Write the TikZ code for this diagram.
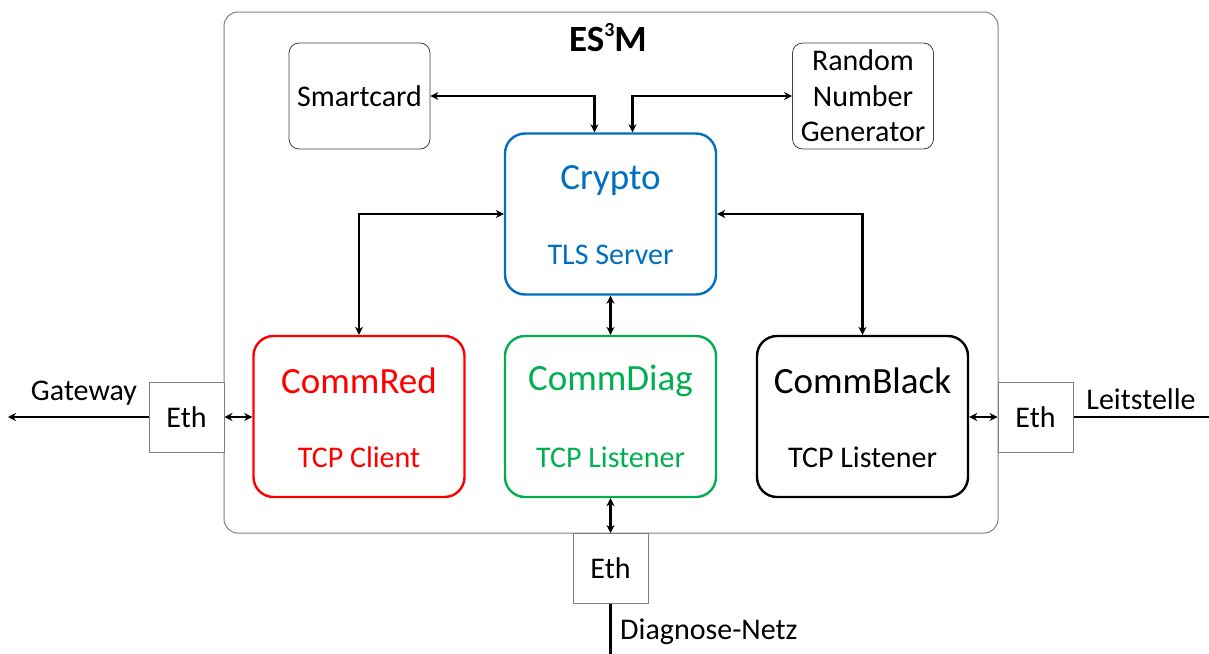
\documentclass[tikz,border=0pt]{standalone}
\usepackage{fontspec}
\setmainfont{Carlito}
\usetikzlibrary{arrows.meta,calc}
\definecolor{cblue}{HTML}{0070C0}
\definecolor{cred}{HTML}{FF0000}
\definecolor{cgreen}{HTML}{00B050}
\definecolor{cgray}{HTML}{7F7F7F}
\begin{document}
\begin{tikzpicture}[x=1pt,y=-1pt,
  outerbox/.style={draw=cgray,line width=1pt,rounded corners=14pt,inner sep=0pt},
  smallbox/.style={draw=black!75,line width=0.8pt,rounded corners=10pt,inner sep=0pt,minimum width=141pt,minimum height=106pt},
  compbox/.style={line width=2.4pt,rounded corners=20pt,inner sep=0pt,minimum width=211pt,minimum height=161pt},
  ethbox/.style={draw=cgray,line width=1pt,fill=white,inner sep=0pt,minimum width=75pt,minimum height=70pt,font=\fontsize{30}{34}\selectfont},
  bigtxt/.style={font=\fontsize{37}{42}\selectfont,inner sep=0pt},
  smalltxt/.style={font=\fontsize{30}{34}\selectfont,inner sep=0pt},
  conn/.style={line width=2.4pt,{Stealth[length=8pt,width=8pt]}-{Stealth[length=8pt,width=8pt]}},
  oneway/.style={line width=2.4pt,-{Stealth[length=8pt,width=8pt]}}
]
\useasboundingbox (0,0) rectangle (1209,653);
\node[outerbox,minimum width=774pt,minimum height=521pt] (esm) at (611,272.5) {};
\node[font=\fontsize{37}{42}\selectfont\bfseries,inner sep=0pt] (title) at (608,38) {ES\raisebox{15pt}{\fontsize{20}{24}\selectfont 3}M};
\node[smallbox] (sc) at (359.5,96) {};
\node[smalltxt] (sctxt) at (359.5,96) {Smartcard};
\node[smallbox] (rng) at (863,96) {};
\node[smalltxt,align=center,font=\fontsize{30}{35.5}\selectfont] (rngtxt) at (863,96) {Random\\Number\\Generator};
\node[compbox,draw=cblue] (cr) at (610.5,214) {};
\node[bigtxt,text=cblue] (crt) at (610.5,180) {Crypto};
\node[smalltxt,text=cblue] (crs) at (610.5,255) {TLS Server};
\node[compbox,draw=cred] (red) at (359,416.5) {};
\node[bigtxt,text=cred] (redt) at (359,381) {CommRed};
\node[smalltxt,text=cred] (reds) at (359,457) {TCP Client};
\node[compbox,draw=cgreen] (diag) at (610.5,416.5) {};
\node[bigtxt,text=cgreen] (diagt) at (610.5,381) {CommDiag};
\node[smalltxt,text=cgreen] (diags) at (610.5,457) {TCP Listener};
\node[compbox,draw=black] (blk) at (862.5,416.5) {};
\node[bigtxt] (blkt) at (862.5,381) {CommBlack};
\node[smalltxt] (blks) at (862.5,457) {TCP Listener};
\node[ethbox] (ethl) at (186.5,417) {Eth};
\node[ethbox] (ethr) at (1035.5,417) {Eth};
\node[ethbox] (ethb) at (610.5,568.5) {Eth};
% connectors
\draw[conn] (sc.east) -| ([xshift=-16pt]cr.north);
\draw[conn] (rng.west) -| ([xshift=22pt]cr.north);
\draw[conn] (cr.west) -| (red.north);
\draw[conn] (cr.east) -| (blk.north);
\draw[conn] (cr.south) -- (diag.north);
\draw[conn] (diag.south) -- (ethb.north);
\draw[conn] (ethl.east) -- (ethl.east -| red.west);
\draw[conn] (ethr.west) -- (ethr.west -| blk.east);
\coordinate (gw) at (8,417);
\coordinate (ls) at (1218,417);
\coordinate (dn) at (610.5,662);
\draw[oneway] (ethl.west) -- (gw);
\draw[oneway] (ethr.east) -- (ls);
\draw[oneway] (ethb.south) -- (dn);
\node[smalltxt] (gwl) at (84,393) {Gateway};
\node[smalltxt] (lsl) at (1141,399) {Leitstelle};
\node[smalltxt,anchor=west] (dnl) at (620,632) {Diagnose-Netz};
\end{tikzpicture}
\end{document}
